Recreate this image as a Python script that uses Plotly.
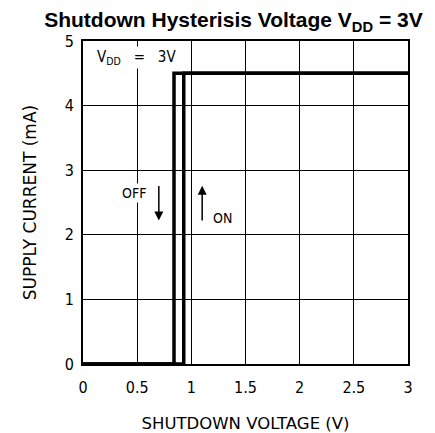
import plotly.graph_objects as go

# shutdown hysteresis, VDD = 3V
off_x = [3, 0.84, 0.84, 0]
off_y = [4.5, 4.5, 0, 0]
on_x = [0, 0.93, 0.93, 3]
on_y = [0, 0, 4.5, 4.5]

x_ticks = [0, 0.5, 1, 1.5, 2, 2.5, 3]
x_labels = ["0", "0.5", "1", "1.5", "2", "2.5", "3"]
y_ticks = [0, 1, 2, 3, 4, 5]

cond = "DejaVu Sans Condensed, DejaVu Sans"
label_font = dict(family=cond, size=14, color="black")

fig = go.Figure()
fig.add_trace(go.Scatter(x=off_x, y=off_y, mode="lines",
                         line=dict(color="black", width=3.5), showlegend=False))
fig.add_trace(go.Scatter(x=on_x, y=on_y, mode="lines",
                         line=dict(color="black", width=3.5), showlegend=False))

fig.add_annotation(x=0.495, y=4.74, text="V<sub>DD</sub>   =   3V", showarrow=False,
                   font=dict(family=cond, size=15, color="black"), bgcolor="white")
fig.add_annotation(x=0.475, y=2.65, text="OFF", showarrow=False,
                   font=label_font, bgcolor="white")
fig.add_annotation(x=1.29, y=2.26, text="ON", showarrow=False,
                   font=label_font, bgcolor="white")
# arrows
fig.add_annotation(x=0.70, y=2.22, ax=0.70, ay=2.78, axref="x", ayref="y",
                   text="", showarrow=True, arrowhead=2, arrowsize=1.2,
                   arrowwidth=1.5, arrowcolor="black")
fig.add_annotation(x=1.10, y=2.76, ax=1.10, ay=2.2, axref="x", ayref="y",
                   text="", showarrow=True, arrowhead=2, arrowsize=1.2,
                   arrowwidth=1.5, arrowcolor="black")

axis_common = dict(showgrid=True, gridcolor="black", gridwidth=1.3,
                   showline=True, linecolor="black", linewidth=2, mirror=True,
                   zeroline=False, ticks="outside", tickcolor="rgba(0,0,0,0)",
                   automargin=False,
                   tickfont=dict(family=cond, size=16, color="black"))

fig.update_layout(
    width=427, height=425,
    margin=dict(l=75, r=27, t=33, b=69),
    plot_bgcolor="white", paper_bgcolor="white",
    title=dict(text="<b>Shutdown Hysterisis Voltage V<sub>DD</sub> = 3V</b>",
               x=0.528, xanchor="center", y=0.972, yanchor="middle",
               font=dict(family="Liberation Sans, Arial", size=21, color="black")),
    xaxis=dict(range=[0, 3], tickvals=x_ticks, ticktext=x_labels, ticklen=8,
               title=dict(text="SHUTDOWN VOLTAGE (V)", standoff=24,
                          font=dict(family="DejaVu Sans", size=16.5, color="black")),
               **axis_common),
    yaxis=dict(range=[0, 5], tickvals=y_ticks, ticklen=4,
               title=dict(text="SUPPLY CURRENT (mA)", standoff=24,
                          font=dict(family="DejaVu Sans", size=17, color="black")),
               **axis_common),
)

fig.write_html("out.html")
